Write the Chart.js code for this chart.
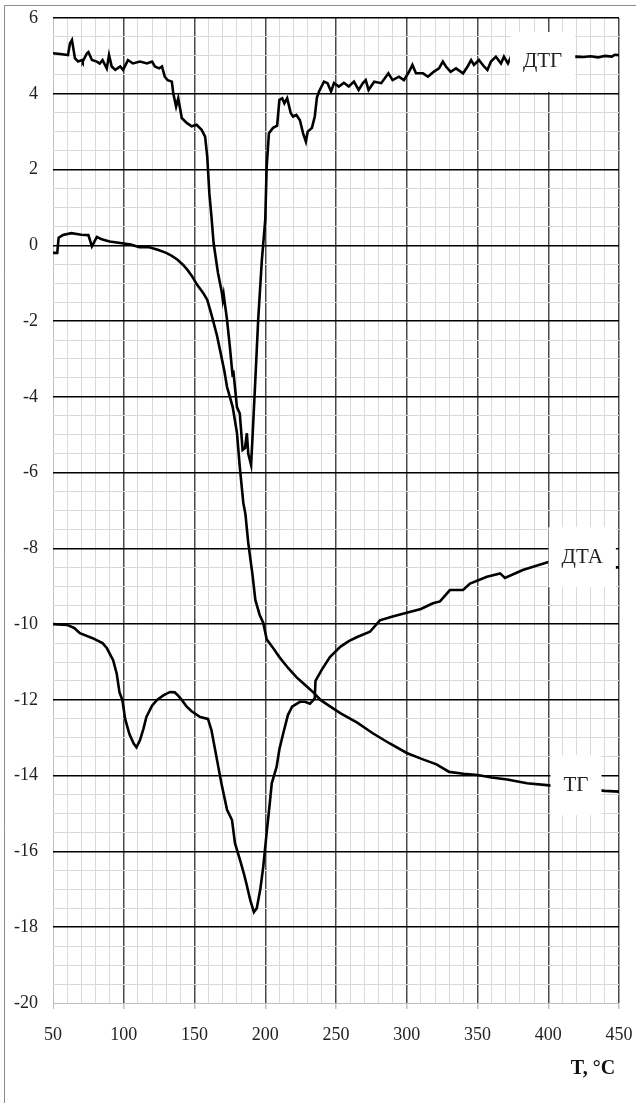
<!DOCTYPE html>
<html>
<head>
<meta charset="utf-8">
<title>ДТА, ТГ, ДТГ</title>
<script src="https://cdn.jsdelivr.net/npm/chart.js@4.4.1/dist/chart.umd.min.js"></script>
<style>
    html, body { margin: 0; padding: 0; background: #fff; }
    #wrap { position: relative; width: 636px; height: 1103px; }
</style>
</head>
<body>
<div id="wrap"><canvas id="thermoChart"></canvas></div>
<script>
// axis labels
var xTicks = [50, 100, 150, 200, 250, 300, 350, 400, 450];
var yTicks = [-20, -18, -16, -14, -12, -10, -8, -6, -4, -2, 0, 2, 4, 6];

// ДТГ
var dtgT = [50, 55, 60.6, 62, 63.4, 65.5, 67.7, 70.5, 71, 74, 75, 77.5, 81, 83, 85, 88, 89.6, 91.5, 94, 97.5,
    99.5, 103, 106.5, 111.5, 116.4, 120, 122, 125, 127, 129, 131, 134, 135, 137, 138.5, 140, 141, 144.5, 148, 151.5,
    155, 157.5, 159, 160.5, 162, 163.5, 166.6, 169.4, 170, 170.6, 173, 175, 177, 177.4, 180, 182, 184, 185.7, 187, 188,
    190, 191, 193, 195, 197.6, 200, 201, 202.6, 205.5, 208.4, 210, 212, 213.5, 215.5, 218, 219.6, 222, 224.5, 226.7, 228.7,
    230, 233, 235, 236.5, 238, 241.5, 244, 246.5, 248.6, 252, 255.6, 259, 262.7, 266, 269, 271, 273, 277, 282, 287,
    290, 294.5, 298, 301.6, 304, 306.5, 311.5, 315, 319, 322.8, 325.5, 327.7, 331, 334.8, 339.8, 343, 345.5, 347.5, 351, 354.6,
    357, 359.5, 363, 366.6, 368.7, 371.5, 373.7, 375.8, 380, 400, 420, 425, 430, 435, 440, 445, 447, 450];
var dtgV = [5.07, 5.05, 5.02, 5.33, 5.42, 4.94, 4.85, 4.89, 4.85, 5.07, 5.1, 4.89, 4.85, 4.8, 4.89, 4.67, 5.02, 4.72, 4.63, 4.72,
    4.63, 4.89, 4.8, 4.85, 4.8, 4.85, 4.72, 4.67, 4.72, 4.45, 4.36, 4.32, 4.01, 3.66, 3.88, 3.57, 3.36, 3.23, 3.14, 3.18,
    3.05, 2.87, 2.34, 1.37, 0.75, 0.06, -0.73, -1.26, -1.44, -1.3, -1.97, -2.68, -3.47, -3.3, -4.27, -4.44, -5.4, -5.35, -4.96, -5.5,
    -5.8, -5.06, -3.55, -1.97, -0.39, 0.67, 2.07, 2.96, 3.1, 3.16, 3.84, 3.88, 3.75, 3.88, 3.49, 3.4, 3.44, 3.3, 2.96, 2.74,
    3.0, 3.1, 3.4, 3.9, 4.06, 4.32, 4.28, 4.06, 4.28, 4.19, 4.29, 4.19, 4.32, 4.1, 4.28, 4.36, 4.1, 4.32, 4.28, 4.54,
    4.36, 4.45, 4.36, 4.58, 4.76, 4.54, 4.54, 4.45, 4.58, 4.67, 4.85, 4.72, 4.58, 4.67, 4.54, 4.72, 4.89, 4.76, 4.89, 4.72,
    4.63, 4.85, 4.98, 4.8, 4.98, 4.8, 4.98, 4.76, 4.9, 4.95, 4.98, 4.97, 4.99, 4.96, 5.0, 4.98, 5.03, 5.02];

// ТГ
var tgT = [50, 53, 54, 57, 63, 70, 75, 77.5, 81, 85, 90, 100, 105, 111, 118, 124, 130, 134, 138, 142,
    145, 148, 152, 156, 159, 161, 163, 166, 168, 171, 173, 175, 177, 180, 182, 184.5, 186, 188, 191, 193,
    196, 198.6, 201, 205, 210, 216, 222, 228, 234, 239, 245, 253, 265, 276, 288, 300, 310, 321, 330, 340,
    350, 360, 371, 385, 399, 410, 425, 440, 450];
var tgV = [-0.2, -0.2, 0.2, 0.27, 0.32, 0.28, 0.27, -0.03, 0.22, 0.15, 0.1, 0.05, 0.02, -0.05, -0.05, -0.12, -0.2, -0.28, -0.38, -0.52,
    -0.65, -0.8, -1.05, -1.25, -1.44, -1.7, -1.97, -2.4, -2.76, -3.3, -3.74, -4.0, -4.27, -4.95, -5.85, -6.8, -7.1, -7.86, -8.7, -9.36,
    -9.75, -9.97, -10.4, -10.6, -10.87, -11.15, -11.4, -11.6, -11.8, -12.0, -12.15, -12.35, -12.6, -12.88, -13.15, -13.4, -13.55, -13.7, -13.9, -13.95,
    -13.98, -14.05, -14.1, -14.2, -14.25, -14.3, -14.35, -14.4, -14.42];

// ДТА
var dtaT = [50, 60, 65, 69, 78, 85, 88, 92.5, 95, 97, 99, 101, 104, 107, 109, 111.5, 114, 116, 120, 123.5,
    128, 132.7, 136, 138, 141, 144.5, 148, 154, 159.5, 162, 164.5, 167, 169, 173, 176.5, 178.6, 182, 185, 187, 189.5,
    192, 194, 196.5, 198.6, 201, 203, 204.6, 208, 210, 212.6, 216, 219, 224.5, 228, 231.6, 235, 235.5, 240, 245.7, 253,
    259, 265, 274, 281, 290, 300, 310, 318.5, 323.5, 330.5, 339.8, 344.7, 356.7, 366, 369.4, 382, 400, 425, 447, 450];
var dtaV = [-10.0, -10.02, -10.1, -10.24, -10.37, -10.5, -10.63, -10.95, -11.3, -11.8, -12.0, -12.5, -12.9, -13.15, -13.25, -13.06, -12.75, -12.45, -12.15, -12.0,
    -11.88, -11.79, -11.8, -11.87, -12.0, -12.18, -12.3, -12.45, -12.5, -12.8, -13.3, -13.8, -14.2, -14.9, -15.17, -15.78, -16.2, -16.6, -16.9, -17.3,
    -17.6, -17.5, -17.0, -16.4, -15.5, -14.8, -14.2, -13.77, -13.3, -12.9, -12.4, -12.18, -12.05, -12.05, -12.1, -11.96, -11.5, -11.2, -10.87, -10.6,
    -10.45, -10.34, -10.2, -9.9, -9.8, -9.7, -9.6, -9.45, -9.4, -9.1, -9.1, -8.93, -8.75, -8.66, -8.78, -8.57, -8.36, -8.4, -8.5, -8.5];

var serif = '"Liberation Serif", "Times New Roman", serif';

function toPoints(xs, ys) {
    return xs.map(function(x, i) { return { x: x, y: ys[i] }; });
}

function curve(label, xs, ys) {
    return {
        label: label,
        data: toPoints(xs, ys),
        borderColor: '#000',
        borderWidth: 2.6,
        pointRadius: 0,
        tension: 0,
        fill: false
    };
}

// white boxes with series names, frame and axis title
var decorPlugin = {
    id: 'decor',
    beforeDraw: function(chart) {
        var ctx = chart.ctx;
        ctx.save();
        ctx.strokeStyle = '#8c8c8c';
        ctx.lineWidth = 1;
        ctx.beginPath();
        ctx.moveTo(4.5, chart.height);
        ctx.lineTo(4.5, 5.5);
        ctx.lineTo(chart.width, 5.5);
        ctx.stroke();
        ctx.restore();
    },
    afterDatasetsDraw: function(chart) {
        var ctx = chart.ctx, xs = chart.scales.x, ys = chart.scales.y;
        var names = [
            { text: 'ДТГ', t: 396, v: 4.84 },
            { text: 'ДТА', t: 424, v: -8.23 },
            { text: 'ТГ', t: 419.6, v: -14.25 }
        ];
        ctx.save();
        ctx.font = '21px ' + serif;
        ctx.textAlign = 'center';
        ctx.textBaseline = 'middle';
        names.forEach(function(n) {
            var cx = xs.getPixelForValue(n.t);
            var cy = ys.getPixelForValue(n.v);
            var w = ctx.measureText(n.text).width + 26;
            ctx.fillStyle = '#fff';
            ctx.fillRect(cx - w / 2, cy - 30, w, 60);
            ctx.fillStyle = '#222';
            ctx.fillText(n.text, cx, cy);
        });
        ctx.font = 'bold 20px ' + serif;
        ctx.fillStyle = '#111';
        ctx.fillText('T, °C', 593, 1069);
        ctx.restore();
    }
};

function xMajor(v) { return v % 50 === 0; }
function yMajor(v) { return v % 2 === 0; }

var ctx = document.getElementById('thermoChart').getContext('2d');
var thermoChart = new Chart(ctx, {
    type: 'line',
    data: {
        datasets: [
            curve('ДТГ', dtgT, dtgV),
            curve('ТГ', tgT, tgV),
            curve('ДТА', dtaT, dtaV)
        ]
    },
    options: {
        responsive: true,
        maintainAspectRatio: false,
        animation: false,
        layout: {
            padding: { top: 18, right: 17, left: 0, bottom: 0 }
        },
        plugins: {
            legend: { display: false },
            tooltip: { enabled: false }
        },
        scales: {
            x: {
                type: 'linear',
                min: 50,
                max: 450,
                afterFit: function(scale) {
                    scale.height = 100;
                    scale.paddingLeft = 0;
                    scale.paddingRight = 0;
                },
                border: { display: false },
                grid: {
                    drawTicks: true,
                    tickLength: 6,
                    color: function(c) {
                        if (!c.tick) return '#d9d9d9';
                        if (c.tick.value === 50) return '#c0c0c0';
                        return xMajor(c.tick.value) ? '#4a4a4a' : '#d9d9d9';
                    },
                    lineWidth: function(c) {
                        if (!c.tick) return 1;
                        return xMajor(c.tick.value) && c.tick.value !== 50 ? 1.5 : 1;
                    },
                    tickColor: function(c) {
                        if (!c.tick) return 'rgba(0,0,0,0)';
                        return xMajor(c.tick.value) ? '#c0c0c0' : 'rgba(0,0,0,0)';
                    }
                },
                ticks: {
                    stepSize: 10,
                    autoSkip: false,
                    maxRotation: 0,
                    minRotation: 0,
                    padding: 15,
                    color: '#222',
                    font: { family: serif, size: 18 },
                    callback: function(v) { return xTicks.indexOf(v) >= 0 ? String(v) : ''; }
                }
            },
            y: {
                type: 'linear',
                min: -20,
                max: 6,
                afterFit: function(scale) {
                    scale.width = 53;
                    scale.paddingTop = 0;
                    scale.paddingBottom = 0;
                },
                border: { display: false },
                grid: {
                    drawTicks: false,
                    color: function(c) {
                        if (!c.tick) return '#d9d9d9';
                        if (c.tick.value === -20) return '#c0c0c0';
                        return yMajor(c.tick.value) ? '#000' : '#d9d9d9';
                    },
                    lineWidth: function(c) {
                        if (!c.tick) return 1;
                        return yMajor(c.tick.value) && c.tick.value !== -20 ? 1.5 : 1;
                    }
                },
                ticks: {
                    stepSize: 0.5,
                    autoSkip: false,
                    padding: 15,
                    color: '#222',
                    font: { family: serif, size: 18 },
                    callback: function(v) { return yTicks.indexOf(v) >= 0 ? String(v) : ''; }
                }
            }
        }
    },
    plugins: [decorPlugin]
});
</script>
</body>
</html>
